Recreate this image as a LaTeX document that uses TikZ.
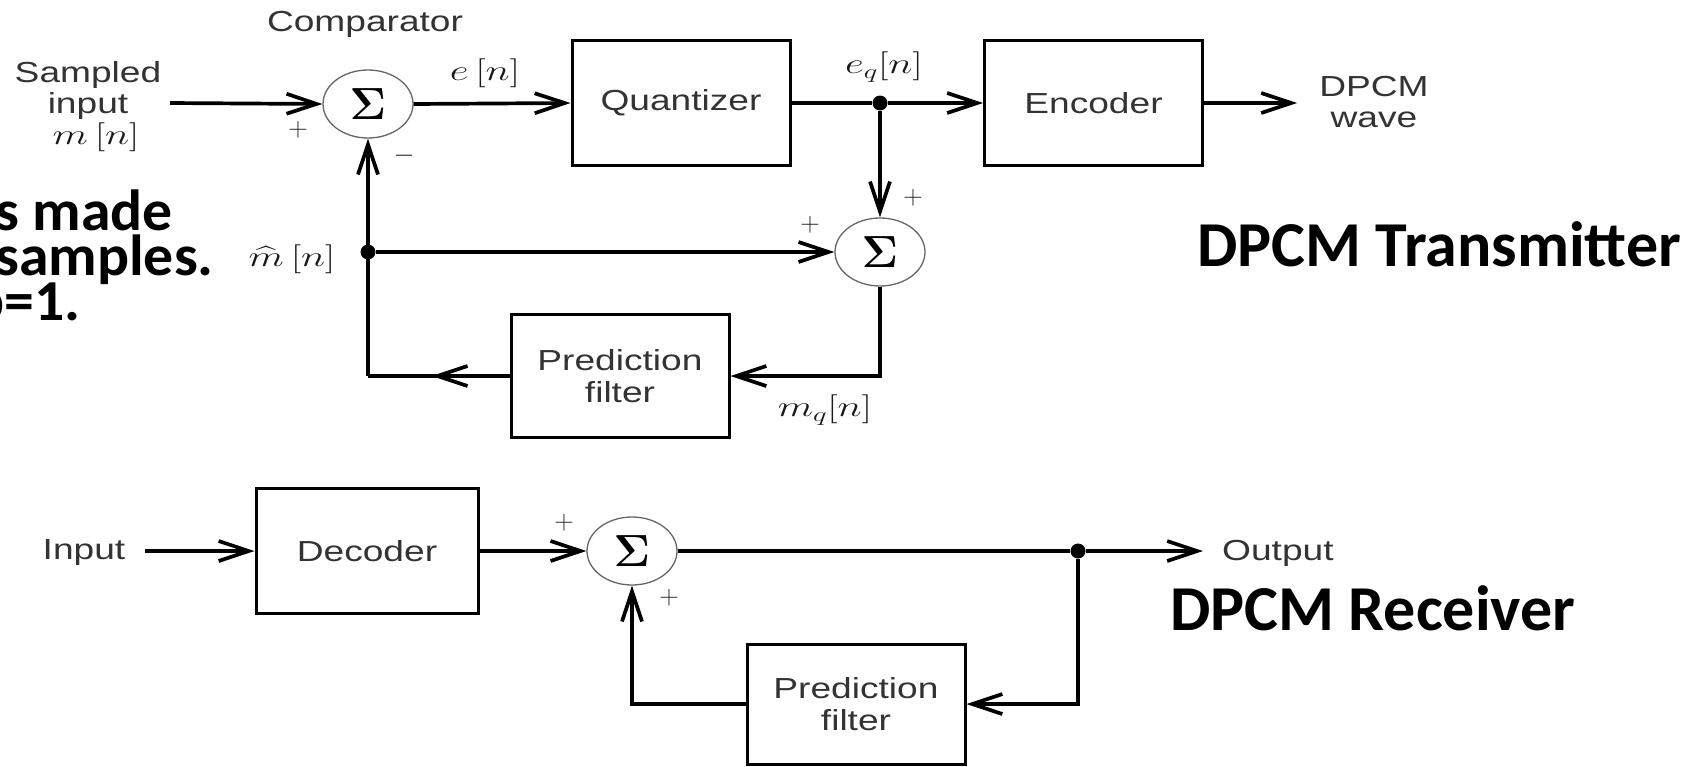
\RequirePackage{fix-cm}
\documentclass[tikz,border=0pt]{standalone}
\usepackage[no-math]{fontspec}
\usepackage{amsmath}
\setsansfont{Liberation Sans}
\newfontfamily\calib{Carlito}
\usetikzlibrary{arrows.meta,shapes.geometric,decorations.markings}
\newcommand\sx[1]{\scalebox{1.28}[1]{#1}}
\newcommand\mx[1]{\scalebox{1.42}[1]{#1}}
\newcommand\bx[1]{\scalebox{1.03}[1]{#1}}
\newcommand\dfont{\sffamily\fontsize{29}{32}\selectfont}
\begin{document}
\begin{tikzpicture}[x=1pt,y=-1pt,
  blk/.style={draw=black, line width=3pt, minimum width=218pt, minimum height=125pt, inner sep=0pt, font=\dfont, text=black!80, align=center},
  sumn/.style={ellipse, draw=black!60, line width=1.3pt, minimum width=90pt, minimum height=68pt, inner sep=0pt, fill=white, font=\fontsize{45}{45}\selectfont},
  wire/.style={line width=3.7pt},
  barb/.style={-{Straight Barb[length=30pt,width=20pt]}},
  midbarb/.style={decoration={markings, mark=at position #1 with {\arrow{Straight Barb[length=30pt,width=20pt]}}}, postaction={decorate}},
  jdot/.style={circle, fill=black, inner sep=0pt, minimum size=15pt},
  lab/.style={font=\dfont, text=black!80, inner sep=0pt, align=center},
  sgn/.style={font=\fontsize{27}{27}\selectfont, text=black!85, inner sep=0pt},
  mlab/.style={font=\fontsize{29}{29}\selectfont, text=black!90, inner sep=0pt},
  big/.style={font=\calib\bfseries\fontsize{64}{64}\selectfont, inner sep=0pt},
  side/.style={font=\calib\bfseries\fontsize{58}{58}\selectfont, inner sep=0pt, text height=28pt, text depth=2pt},
]
\useasboundingbox (0,0) rectangle (1691,766);
% ---------- transmitter ----------
\node[sumn] (s1) at (368,104) {$\mathbf{\Sigma}$};
\node[blk] (quant) at (681,103) {\sx{Quantizer}};
\node[blk] (enc) at (1093.5,103) {\sx{Encoder}};
\node[sumn] (s2) at (880,252) {$\mathbf{\Sigma}$};
\node[blk, minimum height=123pt] (pf1) at (620,376) {\sx{Prediction}\\\sx{filter}};
\node[jdot] (j1) at (880,103) {};
\node[jdot] (j2) at (368,252) {};
\coordinate (in1) at (170,103);
\coordinate (out1) at (1297,103);
\coordinate (c1) at (880,376);
\coordinate (c2) at (368,376);

\draw[wire,barb] (in1) -- (s1.west);
\draw[wire,barb] (s1.east) -- (quant.west);
\draw[wire] (quant.east) -- (j1);
\draw[wire,barb] (j1) -- (enc.west);
\draw[wire,barb] (enc.east) -- (out1);
\draw[wire,barb] (j1) -- (s2.north);
\draw[wire,barb] (j2) -- (s2.west);
\draw[wire,barb] (s2.south) -- (c1) -- (pf1.east);
\draw[wire,midbarb=0.55] (pf1.west) -- (c2);
\draw[wire,barb] (c2) -- (s1.south);

\node[lab] (comp) at (365,24) {\sx{Comparator}};
\node[lab] (samp) at (88,75) {\sx{Sampled}};
\node[lab] (inp) at (88,106) {\sx{input}};
\node[mlab] (mn) at (96,137) {\mx{$m\,[n]$}};
\node[mlab] (en) at (485,73) {\mx{$e\,[n]$}};
\node[mlab] (eqn) at (884,67) {\mx{$e_q[n]$}};
\node[mlab] (mhat) at (292,259) {\mx{$\widehat{m}\,[n]$}};
\node[mlab] (mqn) at (825,410) {\mx{$m_q[n]$}};
\node[sgn] (p1) at (298,130) {$+$};
\node[sgn] (m1) at (404,156) {$-$};
\node[sgn] (p2) at (913,198) {$+$};
\node[sgn] (p3) at (810,225) {$+$};
\node[lab] (dp) at (1374,87) {\sx{DPCM}};
\node[lab] (wv) at (1374,120) {\sx{wave}};
\node[big, anchor=base west] (tx) at (1197,266) {DPCM Transmitter};

% ---------- receiver ----------
\node[blk, minimum width=222pt] (dec) at (367,551) {\sx{Decoder}};
\node[sumn] (s3) at (632,551) {$\mathbf{\Sigma}$};
\node[jdot] (j3) at (1078,551) {};
\node[blk, minimum height=120pt] (pf2) at (856,704) {\sx{Prediction}\\\sx{filter}};
\coordinate (in2) at (145,551);
\coordinate (out2) at (1203,551);
\coordinate (c3) at (1078,704);
\coordinate (c4) at (632,704);

\draw[wire,barb] (in2) -- (dec.west);
\draw[wire,barb] (dec.east) -- (s3.west);
\draw[wire] (s3.east) -- (j3);
\draw[wire,barb] (j3) -- (out2);
\draw[wire,barb] (j3) -- (c3) -- (pf2.east);
\draw[wire,barb] (pf2.west) -- (c4) -- (s3.south);

\node[lab] (inl) at (84,553) {\sx{Input}};
\node[lab, anchor=west] (outl) at (1222,553) {\sx{Output}};
\node[sgn] (p4) at (564,523) {$+$};
\node[sgn] (p5) at (669,598) {$+$};
\node[big, anchor=base west] (rx) at (1170,630) {DPCM Receiver};

% ---------- cut-off slide text ----------
\node[side, anchor=base east] (t1) at (173,230) {\bx{s made}};
\node[side, anchor=base east] (t2) at (214,275) {\bx{samples.}};
\node[side, anchor=base east] (t3) at (81,320) {\bx{p=1.}};
\end{tikzpicture}
\end{document}
